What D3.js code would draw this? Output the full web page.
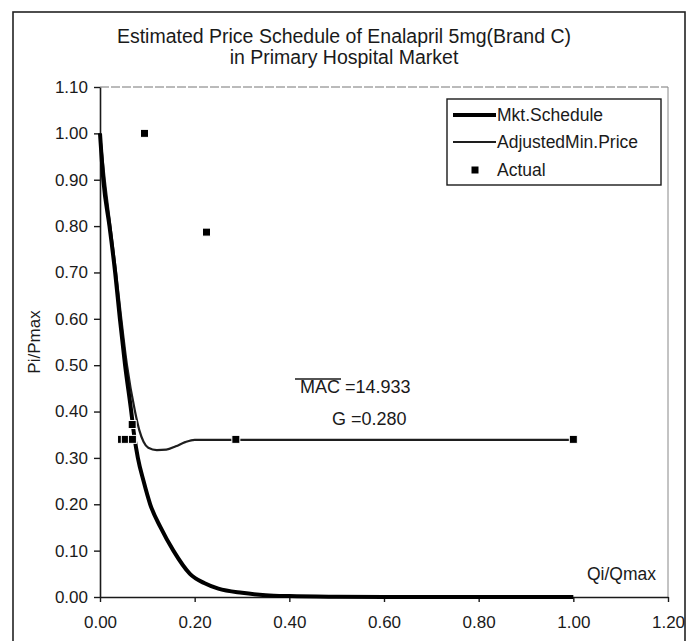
<!DOCTYPE html>
<html>
<head>
<meta charset="utf-8">
<script src="https://cdn.jsdelivr.net/npm/d3@7"></script>
<style>
  html, body { margin: 0; padding: 0; background: #fff; }
  svg { display: block; }
  text { font-family: "Liberation Sans", Arial, sans-serif; fill: #1a1a1a; }
</style>
</head>
<body>
<svg id="chart" width="686" height="641"></svg>
<script>
// ---- data ----
const titleLines = ["Estimated Price Schedule of Enalapril 5mg(Brand C)", "in Primary Hospital Market"];
const xTicks = [0, 0.2, 0.4, 0.6, 0.8, 1.0, 1.2];
const yTicks = [0, 0.1, 0.2, 0.3, 0.4, 0.5, 0.6, 0.7, 0.8, 0.9, 1.0, 1.1];
const seriesNames = ["Mkt.Schedule", "AdjustedMin.Price", "Actual"];

// Market schedule curve (Qi/Qmax, Pi/Pmax)
const mktQ = [0, 0.007, 0.02, 0.032, 0.042, 0.053, 0.066, 0.072, 0.08, 0.092, 0.106, 0.128, 0.155, 0.19, 0.22, 0.25, 0.30, 0.35, 0.40, 0.50, 0.60, 1.00];
const mktP = [1.00, 0.90, 0.80, 0.70, 0.60, 0.50, 0.40, 0.35, 0.30, 0.25, 0.20, 0.15, 0.10, 0.05, 0.03, 0.018, 0.009, 0.004, 0.002, 0.0005, 0, 0];

// Adjusted minimum price curve
const adjQ = [0, 0.010, 0.022, 0.034, 0.045, 0.057, 0.074, 0.083, 0.092, 0.102, 0.12, 0.14, 0.16, 0.18, 0.20, 0.30, 1.00];
const adjP = [1.00, 0.90, 0.80, 0.70, 0.60, 0.50, 0.40, 0.36, 0.335, 0.322, 0.317, 0.318, 0.325, 0.334, 0.339, 0.339, 0.339];

// Actual observations
const actualQ = [0.094, 0.225, 0.0455, 0.0535, 0.0685, 0.068, 0.287, 1.00];
const actualP = [1.00, 0.787, 0.34, 0.34, 0.34, 0.372, 0.34, 0.34];

const annotation = { mac: "MAC", macVal: " =14.933", g: "G =0.280" };

// ---- layout ----
const svg = d3.select("#chart");
const plot = { left: 100, right: 668, top: 87, bottom: 597 };

const x = d3.scaleLinear().domain([0, 1.2]).range([plot.left, plot.right]);
const y = d3.scaleLinear().domain([0, 1.1]).range([plot.bottom, plot.top]);

// outer chart frame
svg.append("rect")
  .attr("x", 13).attr("y", 12)
  .attr("width", 672).attr("height", 640)
  .attr("fill", "#fff").attr("stroke", "#222").attr("stroke-width", 1.6);

// title
const title = svg.append("text")
  .attr("text-anchor", "middle")
  .style("font-size", "19.5px");
title.append("tspan").attr("x", 344).attr("y", 43).text(titleLines[0]);
title.append("tspan").attr("x", 344).attr("y", 64).text(titleLines[1]);

// plot area border (top & right, light gray)
svg.append("line")
  .attr("x1", plot.left).attr("x2", plot.right)
  .attr("y1", plot.top).attr("y2", plot.top)
  .attr("stroke", "#777").attr("stroke-width", 1)
  .attr("stroke-dasharray", "9,2");
svg.append("line")
  .attr("x1", plot.right).attr("x2", plot.right)
  .attr("y1", plot.top).attr("y2", plot.bottom)
  .attr("stroke", "#888").attr("stroke-width", 1);

// axes
const xAxis = d3.axisBottom(x).tickValues(xTicks).tickFormat(d3.format(".2f"))
  .tickSize(5).tickSizeOuter(0).tickPadding(14);
const gx = svg.append("g").attr("transform", `translate(0,${plot.bottom})`).call(xAxis);

const yAxis = d3.axisLeft(y).tickValues(yTicks).tickFormat(d3.format(".2f"))
  .tickSize(6).tickSizeOuter(0).tickPadding(6);
const gy = svg.append("g").attr("transform", `translate(${plot.left},0)`).call(yAxis);

[gx, gy].forEach(g => {
  g.select(".domain").attr("stroke", "#1a1a1a").attr("stroke-width", 1.6);
  g.selectAll(".tick line").attr("stroke", "#1a1a1a").attr("stroke-width", 1.4);
  g.selectAll(".tick text")
    .style("font-family", "\"Liberation Sans\", Arial, sans-serif")
    .style("font-size", "17px").attr("fill", "#1a1a1a");
});

// axis titles
svg.append("text")
  .attr("transform", `translate(40,${(plot.top + plot.bottom) / 2}) rotate(-90)`)
  .attr("text-anchor", "middle")
  .style("font-size", "17px")
  .text("Pi/Pmax");
svg.append("text")
  .attr("x", 656).attr("y", 580)
  .attr("text-anchor", "end")
  .style("font-size", "17.5px")
  .text("Qi/Qmax");

// lines
const mktData = mktQ.map((q, i) => [q, mktP[i]]);
const adjData = adjQ.map((q, i) => [q, adjP[i]]);
const line = d3.line().x(d => x(d[0])).y(d => y(d[1])).curve(d3.curveMonotoneX);

svg.append("path").datum(adjData)
  .attr("d", line).attr("fill", "none")
  .attr("stroke", "#1e1e1e").attr("stroke-width", 2.2)
  .attr("stroke-linejoin", "round");

svg.append("path").datum(mktData)
  .attr("d", line).attr("fill", "none")
  .attr("stroke", "#000").attr("stroke-width", 4)
  .attr("stroke-linejoin", "round");

// actual markers
const ms = 8;
svg.append("g").selectAll("rect")
  .data(actualQ.map((q, i) => [q, actualP[i]]))
  .join("rect")
  .attr("x", d => x(d[0]) - ms / 2)
  .attr("y", d => y(d[1]) - ms / 2)
  .attr("width", ms).attr("height", ms)
  .attr("fill", "#000")
  .attr("stroke", "#fff").attr("stroke-width", 1);

// legend
const lg = svg.append("g");
lg.append("rect")
  .attr("x", 447).attr("y", 99).attr("width", 214).attr("height", 86)
  .attr("fill", "#fff").attr("stroke", "#1a1a1a").attr("stroke-width", 1.4);
const legRows = [115, 142, 170];
lg.append("line").attr("x1", 453).attr("x2", 496).attr("y1", legRows[0]).attr("y2", legRows[0])
  .attr("stroke", "#000").attr("stroke-width", 4);
lg.append("line").attr("x1", 453).attr("x2", 496).attr("y1", legRows[1]).attr("y2", legRows[1])
  .attr("stroke", "#1e1e1e").attr("stroke-width", 2.2);
lg.append("rect").attr("x", 475 - 3.5).attr("y", legRows[2] - 3.5).attr("width", 7).attr("height", 7)
  .attr("fill", "#000");
seriesNames.forEach((name, i) => {
  lg.append("text")
    .attr("x", 497).attr("y", legRows[i] + 6)
    .style("font-size", "17.5px")
    .text(name);
});

// annotation
svg.append("line")
  .attr("x1", 295).attr("x2", 341).attr("y1", 379).attr("y2", 379)
  .attr("stroke", "#1a1a1a").attr("stroke-width", 1.3);
const ann = svg.append("text").attr("x", 300).attr("y", 393).style("font-size", "18px");
ann.append("tspan").text(annotation.mac);
ann.append("tspan").text(annotation.macVal);
svg.append("text").attr("x", 332).attr("y", 425).style("font-size", "18px").text(annotation.g);
</script>
</body>
</html>
